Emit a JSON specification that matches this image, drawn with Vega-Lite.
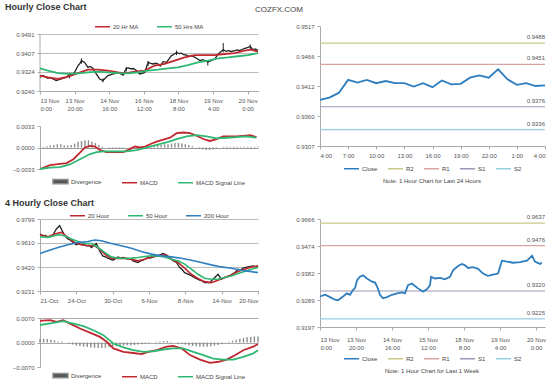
{
"$schema": "https://vega.github.io/schema/vega-lite/v6.json",
"background": "white",
"padding": {"left": 5, "top": 3, "right": 4, "bottom": 2},
"config": {
  "font": "Liberation Sans",
  "view": {"stroke": null},
  "axis": {"labelFontSize": 6, "labelColor": "#555", "domainColor": "#aaa", "tickColor": "#aaa", "tickSize": 3, "labelPadding": 3, "grid": false, "labelOverlap": false, "tickCount": 30},
  "legend": {"labelFontSize": 6, "labelColor": "#444", "symbolType": "stroke", "symbolSize": 225, "symbolStrokeWidth": 1.5, "direction": "horizontal", "padding": 0, "columnPadding": 15, "rowPadding": 0, "labelOffset": 2, "layout": {"bottom": {"anchor": "middle"}, "top": {"anchor": "middle"}}},
  "title": {"font": "Liberation Sans"}
},
"datasets": {
  "p1c": [
    {"i":0,"v":0.9300},{"i":1.7,"v":0.9308},{"i":3,"v":0.9302},{"i":4.6,"v":0.9296},{"i":6,"v":0.9300},{"i":7.5,"v":0.9293},{"i":9.4,"v":0.9286},{"i":11,"v":0.9290},{"i":12.3,"v":0.9293},{"i":14,"v":0.9298},{"i":15.2,"v":0.9300},{"i":17.1,"v":0.9315},{"i":18.5,"v":0.9310},{"i":20,"v":0.9322},{"i":22,"v":0.9352},{"i":23,"v":0.9360},{"i":23.9,"v":0.9374},{"i":25.8,"v":0.9366},{"i":27.7,"v":0.9344},{"i":29,"v":0.9348},{"i":30.6,"v":0.9340},{"i":32.5,"v":0.9315},{"i":34.5,"v":0.9293},{"i":36.4,"v":0.9286},{"i":38,"v":0.9298},{"i":39.3,"v":0.9308},{"i":41,"v":0.9312},{"i":42.2,"v":0.9315},{"i":44,"v":0.9318},{"i":45.1,"v":0.9322},{"i":46.5,"v":0.9316},{"i":48,"v":0.9310},{"i":49.9,"v":0.9340},{"i":51,"v":0.9342},{"i":52.8,"v":0.9337},{"i":54,"v":0.9339},{"i":55.7,"v":0.9330},{"i":57.6,"v":0.9315},{"i":59,"v":0.9318},{"i":60.5,"v":0.9322},{"i":62.5,"v":0.9366},{"i":64,"v":0.9362},{"i":65.3,"v":0.9359},{"i":67,"v":0.9362},{"i":68.3,"v":0.9359},{"i":69.5,"v":0.9350},{"i":71.1,"v":0.9369},{"i":73.1,"v":0.9366},{"i":74.5,"v":0.9380},{"i":76,"v":0.9396},{"i":77.5,"v":0.9402},{"i":78.9,"v":0.9410},{"i":80.5,"v":0.9405},{"i":81.8,"v":0.9407},{"i":83,"v":0.9400},{"i":84.7,"v":0.9398},{"i":86,"v":0.9392},{"i":87.6,"v":0.9396},{"i":89,"v":0.9390},{"i":90.5,"v":0.9384},{"i":92.4,"v":0.9374},{"i":94,"v":0.9378},{"i":95.3,"v":0.9374},{"i":97,"v":0.9368},{"i":98.2,"v":0.9371},{"i":99.5,"v":0.9376},{"i":101.1,"v":0.9381},{"i":102.5,"v":0.9398},{"i":104,"v":0.9410},{"i":105.9,"v":0.9422},{"i":107.5,"v":0.9415},{"i":108.8,"v":0.9418},{"i":110.5,"v":0.9414},{"i":112.7,"v":0.9418},{"i":114,"v":0.9421},{"i":115.4,"v":0.9418},{"i":117.3,"v":0.9425},{"i":118.5,"v":0.9428},{"i":120.2,"v":0.9432},{"i":121.5,"v":0.9436},{"i":123.1,"v":0.9422},{"i":124.5,"v":0.9425},{"i":126,"v":0.9418}
  ],
  "p1hl": [
    {"i":24,"lo":0.9360,"hi":0.9384},{"i":36.4,"lo":0.9278,"hi":0.9296},{"i":62.5,"lo":0.9350,"hi":0.9372},{"i":78.9,"lo":0.9398,"hi":0.9418},{"i":97,"lo":0.9352,"hi":0.9374},{"i":105.9,"lo":0.9410,"hi":0.9451},{"i":121.5,"lo":0.9424,"hi":0.9445},{"i":17.1,"lo":0.9296,"hi":0.9320},{"i":49.9,"lo":0.9326,"hi":0.9346}
  ],
  "p1ma": [
    {"s":"20 Hr MA","i":0,"v":0.9308},{"s":"20 Hr MA","i":4.6,"v":0.9300},{"s":"20 Hr MA","i":10.4,"v":0.9293},{"s":"20 Hr MA","i":16.2,"v":0.9303},{"s":"20 Hr MA","i":22,"v":0.9319},{"s":"20 Hr MA","i":27.7,"v":0.9334},{"s":"20 Hr MA","i":33.5,"v":0.9334},{"s":"20 Hr MA","i":39.3,"v":0.9330},{"s":"20 Hr MA","i":45.1,"v":0.9322},{"s":"20 Hr MA","i":48.9,"v":0.9318},{"s":"20 Hr MA","i":54.7,"v":0.9325},{"s":"20 Hr MA","i":60.5,"v":0.9330},{"s":"20 Hr MA","i":66.3,"v":0.9352},{"s":"20 Hr MA","i":72,"v":0.9359},{"s":"20 Hr MA","i":77.8,"v":0.9374},{"s":"20 Hr MA","i":83.6,"v":0.9388},{"s":"20 Hr MA","i":89.4,"v":0.9398},{"s":"20 Hr MA","i":95.2,"v":0.9398},{"s":"20 Hr MA","i":101,"v":0.9398},{"s":"20 Hr MA","i":106.7,"v":0.9403},{"s":"20 Hr MA","i":112.5,"v":0.9407},{"s":"20 Hr MA","i":118.3,"v":0.9418},{"s":"20 Hr MA","i":122.1,"v":0.9422},{"s":"20 Hr MA","i":126,"v":0.9413},
    {"s":"50 Hrs MA","i":0,"v":0.9340},{"s":"50 Hrs MA","i":4.6,"v":0.9330},{"s":"50 Hrs MA","i":10.4,"v":0.9319},{"s":"50 Hrs MA","i":16.2,"v":0.9315},{"s":"50 Hrs MA","i":22,"v":0.9318},{"s":"50 Hrs MA","i":27.7,"v":0.9322},{"s":"50 Hrs MA","i":33.5,"v":0.9325},{"s":"50 Hrs MA","i":39.3,"v":0.9322},{"s":"50 Hrs MA","i":45.1,"v":0.9319},{"s":"50 Hrs MA","i":50.8,"v":0.9318},{"s":"50 Hrs MA","i":56.6,"v":0.9322},{"s":"50 Hrs MA","i":62.4,"v":0.9330},{"s":"50 Hrs MA","i":68.2,"v":0.9334},{"s":"50 Hrs MA","i":74,"v":0.9340},{"s":"50 Hrs MA","i":79.7,"v":0.9344},{"s":"50 Hrs MA","i":85.5,"v":0.9354},{"s":"50 Hrs MA","i":91.3,"v":0.9366},{"s":"50 Hrs MA","i":97.1,"v":0.9374},{"s":"50 Hrs MA","i":102.9,"v":0.9384},{"s":"50 Hrs MA","i":108.7,"v":0.9388},{"s":"50 Hrs MA","i":114.4,"v":0.9393},{"s":"50 Hrs MA","i":120.2,"v":0.9398},{"s":"50 Hrs MA","i":126,"v":0.9407}
  ],
  "m1": [
    {"s":"MACD","i":0,"v":-0.0033},{"s":"MACD","i":5.8,"v":-0.0027},{"s":"MACD","i":11.6,"v":-0.0025},{"s":"MACD","i":15.4,"v":-0.0024},{"s":"MACD","i":19.3,"v":-0.0018},{"s":"MACD","i":23.1,"v":-0.0008},{"s":"MACD","i":26,"v":0.0},{"s":"MACD","i":28.9,"v":0.00025},{"s":"MACD","i":31.8,"v":0.00015},{"s":"MACD","i":34.7,"v":-0.0004},{"s":"MACD","i":38.5,"v":-0.0007},{"s":"MACD","i":42.4,"v":-0.0007},{"s":"MACD","i":48.2,"v":-0.0007},{"s":"MACD","i":52,"v":-0.00025},{"s":"MACD","i":54.9,"v":0.00015},{"s":"MACD","i":57.8,"v":0.0},{"s":"MACD","i":60.7,"v":0.00015},{"s":"MACD","i":63.6,"v":0.0005},{"s":"MACD","i":67.4,"v":0.0009},{"s":"MACD","i":71.3,"v":0.0012},{"s":"MACD","i":75.1,"v":0.0015},{"s":"MACD","i":79,"v":0.0022},{"s":"MACD","i":82.8,"v":0.0023},{"s":"MACD","i":86.7,"v":0.0022},{"s":"MACD","i":90.5,"v":0.0018},{"s":"MACD","i":94.4,"v":0.0013},{"s":"MACD","i":98.2,"v":0.0010},{"s":"MACD","i":102,"v":0.0013},{"s":"MACD","i":105.9,"v":0.0017},{"s":"MACD","i":109.7,"v":0.0017},{"s":"MACD","i":113.6,"v":0.0017},{"s":"MACD","i":117.4,"v":0.0018},{"s":"MACD","i":121.3,"v":0.0019},{"s":"MACD","i":125.1,"v":0.0016},
    {"s":"MACD Signal Line","i":0,"v":-0.0033},{"s":"MACD Signal Line","i":5.8,"v":-0.0031},{"s":"MACD Signal Line","i":11.6,"v":-0.0030},{"s":"MACD Signal Line","i":17.3,"v":-0.0026},{"s":"MACD Signal Line","i":23.1,"v":-0.0018},{"s":"MACD Signal Line","i":28.9,"v":-0.0010},{"s":"MACD Signal Line","i":32.8,"v":-0.0007},{"s":"MACD Signal Line","i":36.6,"v":-0.0006},{"s":"MACD Signal Line","i":42.4,"v":-0.0006},{"s":"MACD Signal Line","i":50.1,"v":-0.0006},{"s":"MACD Signal Line","i":55.9,"v":-0.0004},{"s":"MACD Signal Line","i":61.7,"v":0.0},{"s":"MACD Signal Line","i":67.4,"v":0.0004},{"s":"MACD Signal Line","i":73.2,"v":0.0008},{"s":"MACD Signal Line","i":79,"v":0.0013},{"s":"MACD Signal Line","i":84.7,"v":0.0017},{"s":"MACD Signal Line","i":90.5,"v":0.0019},{"s":"MACD Signal Line","i":96.3,"v":0.0017},{"s":"MACD Signal Line","i":102,"v":0.0014},{"s":"MACD Signal Line","i":107.8,"v":0.0015},{"s":"MACD Signal Line","i":113.6,"v":0.0016},{"s":"MACD Signal Line","i":119.4,"v":0.0017},{"s":"MACD Signal Line","i":125.1,"v":0.0015}
  ],
  "d1": [
    {"i":0,"d":0.0},{"i":2,"d":0.0001},{"i":4,"d":0.0002},{"i":6,"d":0.0003},{"i":8,"d":0.0004},{"i":10,"d":0.0005},{"i":12,"d":0.0005},{"i":14,"d":0.0003},{"i":16,"d":0.0003},{"i":18,"d":0.0004},{"i":20,"d":0.0006},{"i":22,"d":0.0009},{"i":24,"d":0.0010},{"i":26,"d":0.0011},{"i":28,"d":0.0011},{"i":30,"d":0.0009},{"i":32,"d":0.0007},{"i":34,"d":0.0004},{"i":36,"d":0.0001},{"i":38,"d":0.0},{"i":40,"d":-0.0001},{"i":42,"d":-0.0001},{"i":44,"d":-0.0001},{"i":46,"d":-0.0001},{"i":48,"d":-0.0001},{"i":50,"d":0.0},{"i":52,"d":0.0001},{"i":54,"d":0.0002},{"i":56,"d":0.0001},{"i":58,"d":0.0},{"i":60,"d":0.0001},{"i":62,"d":0.0002},{"i":64,"d":0.0003},{"i":66,"d":0.0004},{"i":68,"d":0.0004},{"i":70,"d":0.0004},{"i":72,"d":0.0005},{"i":74,"d":0.0005},{"i":76,"d":0.0006},{"i":78,"d":0.0007},{"i":80,"d":0.0007},{"i":82,"d":0.0006},{"i":84,"d":0.0005},{"i":86,"d":0.0004},{"i":88,"d":0.0002},{"i":90,"d":0.0},{"i":92,"d":-0.0002},{"i":94,"d":-0.0003},{"i":96,"d":-0.0004},{"i":98,"d":-0.0004},{"i":100,"d":-0.0003},{"i":102,"d":-0.0002},{"i":104,"d":0.0},{"i":106,"d":0.0001},{"i":108,"d":0.0001},{"i":110,"d":0.0001},{"i":112,"d":0.0001},{"i":114,"d":0.0001},{"i":116,"d":0.0001},{"i":118,"d":0.0001},{"i":120,"d":0.0001},{"i":122,"d":0.0001},{"i":124,"d":0.0001},{"i":126,"d":0.0001}
  ],
  "p2c": [
    {"i":0,"v":0.9680},{"i":1.7,"v":0.9667},{"i":3,"v":0.9670},{"i":4.4,"v":0.9654},{"i":6,"v":0.9662},{"i":7.2,"v":0.9675},{"i":9,"v":0.9720},{"i":10.8,"v":0.9746},{"i":12.7,"v":0.9693},{"i":14,"v":0.9660},{"i":15.4,"v":0.9641},{"i":17,"v":0.9630},{"i":18.2,"v":0.9614},{"i":20,"v":0.9596},{"i":21.5,"v":0.9605},{"i":22.8,"v":0.9596},{"i":24,"v":0.9600},{"i":25.5,"v":0.9588},{"i":27,"v":0.9592},{"i":28.3,"v":0.9574},{"i":31,"v":0.9606},{"i":32.8,"v":0.9548},{"i":34.5,"v":0.9508},{"i":36,"v":0.9500},{"i":37.4,"v":0.9490},{"i":39,"v":0.9480},{"i":40.2,"v":0.9474},{"i":42.9,"v":0.9500},{"i":44.3,"v":0.9492},{"i":45.7,"v":0.9495},{"i":48.4,"v":0.9482},{"i":49.8,"v":0.9486},{"i":51.2,"v":0.9469},{"i":53.9,"v":0.9456},{"i":55.2,"v":0.9466},{"i":56.7,"v":0.9474},{"i":59.4,"v":0.9495},{"i":60.8,"v":0.9490},{"i":62.2,"v":0.9500},{"i":64.9,"v":0.9508},{"i":67.7,"v":0.9527},{"i":69.5,"v":0.9516},{"i":71.4,"v":0.9495},{"i":73.2,"v":0.9469},{"i":75.1,"v":0.9456},{"i":76.9,"v":0.9416},{"i":78.2,"v":0.9400},{"i":79.6,"v":0.9376},{"i":82.4,"v":0.9358},{"i":83.8,"v":0.9348},{"i":85.1,"v":0.9337},{"i":87.9,"v":0.9316},{"i":89.2,"v":0.9310},{"i":90.6,"v":0.9297},{"i":93.4,"v":0.9297},{"i":96.2,"v":0.9337},{"i":98,"v":0.9363},{"i":99.8,"v":0.9324},{"i":101.6,"v":0.9337},{"i":104.4,"v":0.9350},{"i":107.2,"v":0.9376},{"i":109,"v":0.9403},{"i":110.3,"v":0.9395},{"i":111.7,"v":0.9411},{"i":114.5,"v":0.9421},{"i":117.2,"v":0.9429},{"i":119,"v":0.9421},{"i":120,"v":0.9429}
  ],
  "p2ma": [
    {"s":"20 Hour","i":0,"v":0.9675},{"s":"20 Hour","i":4.4,"v":0.9659},{"s":"20 Hour","i":8.1,"v":0.9680},{"s":"20 Hour","i":11.7,"v":0.9693},{"s":"20 Hour","i":15.4,"v":0.9654},{"s":"20 Hour","i":19.1,"v":0.9614},{"s":"20 Hour","i":22.8,"v":0.9596},{"s":"20 Hour","i":26.4,"v":0.9588},{"s":"20 Hour","i":30.1,"v":0.9588},{"s":"20 Hour","i":32.8,"v":0.9561},{"s":"20 Hour","i":35.6,"v":0.9522},{"s":"20 Hour","i":39.3,"v":0.9490},{"s":"20 Hour","i":42.9,"v":0.9487},{"s":"20 Hour","i":46.6,"v":0.9490},{"s":"20 Hour","i":50.3,"v":0.9482},{"s":"20 Hour","i":53.9,"v":0.9469},{"s":"20 Hour","i":57.6,"v":0.9482},{"s":"20 Hour","i":61.3,"v":0.9500},{"s":"20 Hour","i":64.9,"v":0.9508},{"s":"20 Hour","i":68.6,"v":0.9516},{"s":"20 Hour","i":72.3,"v":0.9482},{"s":"20 Hour","i":75.9,"v":0.9456},{"s":"20 Hour","i":79.6,"v":0.9411},{"s":"20 Hour","i":83.3,"v":0.9363},{"s":"20 Hour","i":87,"v":0.9329},{"s":"20 Hour","i":90.6,"v":0.9305},{"s":"20 Hour","i":94.3,"v":0.9297},{"s":"20 Hour","i":98,"v":0.9316},{"s":"20 Hour","i":101.6,"v":0.9337},{"s":"20 Hour","i":105.3,"v":0.9358},{"s":"20 Hour","i":109,"v":0.9384},{"s":"20 Hour","i":112.6,"v":0.9403},{"s":"20 Hour","i":116.3,"v":0.9421},{"s":"20 Hour","i":120,"v":0.9429},
    {"s":"50 Hour","i":0,"v":0.9659},{"s":"50 Hour","i":4.4,"v":0.9654},{"s":"50 Hour","i":9.9,"v":0.9675},{"s":"50 Hour","i":13.6,"v":0.9667},{"s":"50 Hour","i":17.3,"v":0.9641},{"s":"50 Hour","i":21,"v":0.9622},{"s":"50 Hour","i":24.7,"v":0.9606},{"s":"50 Hour","i":28.3,"v":0.9606},{"s":"50 Hour","i":32,"v":0.9574},{"s":"50 Hour","i":35.6,"v":0.9535},{"s":"50 Hour","i":39.3,"v":0.9500},{"s":"50 Hour","i":42.9,"v":0.9490},{"s":"50 Hour","i":46.6,"v":0.9487},{"s":"50 Hour","i":50.3,"v":0.9490},{"s":"50 Hour","i":53.9,"v":0.9495},{"s":"50 Hour","i":57.6,"v":0.9503},{"s":"50 Hour","i":61.3,"v":0.9508},{"s":"50 Hour","i":64.9,"v":0.9508},{"s":"50 Hour","i":68.6,"v":0.9500},{"s":"50 Hour","i":72.3,"v":0.9482},{"s":"50 Hour","i":75.9,"v":0.9469},{"s":"50 Hour","i":79.6,"v":0.9443},{"s":"50 Hour","i":83.3,"v":0.9403},{"s":"50 Hour","i":87,"v":0.9363},{"s":"50 Hour","i":90.6,"v":0.9332},{"s":"50 Hour","i":94.3,"v":0.9324},{"s":"50 Hour","i":98,"v":0.9324},{"s":"50 Hour","i":101.6,"v":0.9337},{"s":"50 Hour","i":105.3,"v":0.9350},{"s":"50 Hour","i":109,"v":0.9369},{"s":"50 Hour","i":112.6,"v":0.9384},{"s":"50 Hour","i":116.3,"v":0.9403},{"s":"50 Hour","i":120,"v":0.9416},
    {"s":"200 Hour","i":0,"v":0.9527},{"s":"200 Hour","i":4.4,"v":0.9548},{"s":"200 Hour","i":9.9,"v":0.9574},{"s":"200 Hour","i":15.4,"v":0.9596},{"s":"200 Hour","i":21,"v":0.9614},{"s":"200 Hour","i":26.4,"v":0.9622},{"s":"200 Hour","i":30.1,"v":0.9633},{"s":"200 Hour","i":33.8,"v":0.9627},{"s":"200 Hour","i":39.3,"v":0.9606},{"s":"200 Hour","i":44.8,"v":0.9588},{"s":"200 Hour","i":50.3,"v":0.9569},{"s":"200 Hour","i":55.7,"v":0.9543},{"s":"200 Hour","i":61.3,"v":0.9522},{"s":"200 Hour","i":66.8,"v":0.9508},{"s":"200 Hour","i":72.3,"v":0.9500},{"s":"200 Hour","i":77.8,"v":0.9490},{"s":"200 Hour","i":83.3,"v":0.9474},{"s":"200 Hour","i":88.8,"v":0.9456},{"s":"200 Hour","i":94.3,"v":0.9437},{"s":"200 Hour","i":99.8,"v":0.9421},{"s":"200 Hour","i":105.3,"v":0.9411},{"s":"200 Hour","i":110.8,"v":0.9395},{"s":"200 Hour","i":116.3,"v":0.9384},{"s":"200 Hour","i":120,"v":0.9376}
  ],
  "m2": [
    {"s":"MACD","i":0,"v":0.0062},{"s":"MACD","i":5.5,"v":0.0064},{"s":"MACD","i":9.2,"v":0.0059},{"s":"MACD","i":12.8,"v":0.0064},{"s":"MACD","i":16.5,"v":0.0054},{"s":"MACD","i":22,"v":0.0040},{"s":"MACD","i":27.5,"v":0.0028},{"s":"MACD","i":33,"v":0.0016},{"s":"MACD","i":36.7,"v":0.0002},{"s":"MACD","i":40.4,"v":-0.0017},{"s":"MACD","i":45.9,"v":-0.0027},{"s":"MACD","i":51.4,"v":-0.0030},{"s":"MACD","i":56,"v":-0.0033},{"s":"MACD","i":59.6,"v":-0.0027},{"s":"MACD","i":64.2,"v":-0.0022},{"s":"MACD","i":69.7,"v":-0.0012},{"s":"MACD","i":73.4,"v":-0.0010},{"s":"MACD","i":78,"v":-0.0017},{"s":"MACD","i":82.6,"v":-0.0036},{"s":"MACD","i":88.1,"v":-0.0049},{"s":"MACD","i":93.6,"v":-0.0058},{"s":"MACD","i":98.2,"v":-0.0055},{"s":"MACD","i":102.8,"v":-0.0049},{"s":"MACD","i":106.4,"v":-0.0039},{"s":"MACD","i":111.9,"v":-0.0022},{"s":"MACD","i":117.4,"v":-0.0012},{"s":"MACD","i":120,"v":-0.0004},
    {"s":"MACD Signal Line","i":0,"v":0.0050},{"s":"MACD Signal Line","i":7.3,"v":0.0056},{"s":"MACD Signal Line","i":12.8,"v":0.0061},{"s":"MACD Signal Line","i":18.3,"v":0.0054},{"s":"MACD Signal Line","i":23.9,"v":0.0047},{"s":"MACD Signal Line","i":29.4,"v":0.0035},{"s":"MACD Signal Line","i":34.9,"v":0.0021},{"s":"MACD Signal Line","i":40.4,"v":-0.0003},{"s":"MACD Signal Line","i":45.9,"v":-0.0014},{"s":"MACD Signal Line","i":51.4,"v":-0.0022},{"s":"MACD Signal Line","i":56.9,"v":-0.0027},{"s":"MACD Signal Line","i":62.4,"v":-0.0025},{"s":"MACD Signal Line","i":67.9,"v":-0.0020},{"s":"MACD Signal Line","i":73.4,"v":-0.0017},{"s":"MACD Signal Line","i":78.9,"v":-0.0017},{"s":"MACD Signal Line","i":84.4,"v":-0.0027},{"s":"MACD Signal Line","i":89.9,"v":-0.0036},{"s":"MACD Signal Line","i":95.4,"v":-0.0046},{"s":"MACD Signal Line","i":100.9,"v":-0.0049},{"s":"MACD Signal Line","i":106.4,"v":-0.0049},{"s":"MACD Signal Line","i":111.9,"v":-0.0041},{"s":"MACD Signal Line","i":117.4,"v":-0.0031},{"s":"MACD Signal Line","i":120,"v":-0.0022}
  ],
  "d2": [
    {"i":0,"d":0.0010},{"i":2,"d":0.0011},{"i":4,"d":0.0010},{"i":6,"d":0.0008},{"i":8,"d":0.0006},{"i":10,"d":0.0003},{"i":12,"d":0.0002},{"i":14,"d":0.0},{"i":16,"d":-0.0003},{"i":18,"d":-0.0006},{"i":20,"d":-0.0009},{"i":22,"d":-0.0011},{"i":24,"d":-0.0012},{"i":26,"d":-0.0013},{"i":28,"d":-0.0014},{"i":30,"d":-0.0015},{"i":32,"d":-0.0016},{"i":34,"d":-0.0016},{"i":36,"d":-0.0015},{"i":38,"d":-0.0013},{"i":40,"d":-0.0012},{"i":42,"d":-0.0011},{"i":44,"d":-0.0010},{"i":46,"d":-0.0009},{"i":48,"d":-0.0008},{"i":50,"d":-0.0008},{"i":52,"d":-0.0007},{"i":54,"d":-0.0006},{"i":56,"d":-0.0005},{"i":58,"d":-0.0003},{"i":60,"d":-0.0002},{"i":62,"d":0.0},{"i":64,"d":0.0002},{"i":66,"d":0.0003},{"i":68,"d":0.0004},{"i":70,"d":0.0004},{"i":72,"d":0.0002},{"i":74,"d":0.0},{"i":76,"d":-0.0002},{"i":78,"d":-0.0004},{"i":80,"d":-0.0006},{"i":82,"d":-0.0008},{"i":84,"d":-0.0010},{"i":86,"d":-0.0011},{"i":88,"d":-0.0012},{"i":90,"d":-0.0012},{"i":92,"d":-0.0012},{"i":94,"d":-0.0011},{"i":96,"d":-0.0009},{"i":98,"d":-0.0007},{"i":100,"d":-0.0004},{"i":102,"d":-0.0001},{"i":104,"d":0.0002},{"i":106,"d":0.0005},{"i":108,"d":0.0008},{"i":110,"d":0.0011},{"i":112,"d":0.0013},{"i":114,"d":0.0015},{"i":116,"d":0.0016},{"i":118,"d":0.0017},{"i":120,"d":0.0017}
  ],
  "r1": [
    {"h":0,"v":0.9388},{"h":1,"v":0.9392},{"h":2,"v":0.9400},{"h":3,"v":0.9423},{"h":4,"v":0.9418},{"h":5,"v":0.9423},{"h":6,"v":0.9417},{"h":7,"v":0.9421},{"h":8,"v":0.9417},{"h":9,"v":0.9417},{"h":10,"v":0.9411},{"h":11,"v":0.9417},{"h":12,"v":0.9410},{"h":13,"v":0.9422},{"h":14,"v":0.9415},{"h":15,"v":0.9416},{"h":16,"v":0.9427},{"h":17,"v":0.9431},{"h":18,"v":0.9427},{"h":19,"v":0.9442},{"h":20,"v":0.9424},{"h":21,"v":0.9414},{"h":22,"v":0.9417},{"h":23,"v":0.9412},{"h":24,"v":0.9413}
  ],
  "lv1": [
    {"s":"R2","v":0.9488},{"s":"R1","v":0.9451},{"s":"S1","v":0.9376},{"s":"S2","v":0.9336}
  ],
  "r2": [
    {"i":0,"v":0.9301},{"i":2.8,"v":0.9307},{"i":5.6,"v":0.9299},{"i":8.3,"v":0.9290},{"i":10,"v":0.9288},{"i":12.8,"v":0.9301},{"i":15,"v":0.9312},{"i":16.7,"v":0.9307},{"i":18.3,"v":0.9323},{"i":19.5,"v":0.9331},{"i":20.6,"v":0.9357},{"i":22.2,"v":0.9369},{"i":23.9,"v":0.9374},{"i":26.1,"v":0.9363},{"i":28.9,"v":0.9352},{"i":30.6,"v":0.9349},{"i":31.7,"v":0.9335},{"i":32.5,"v":0.9323},{"i":33.3,"v":0.9307},{"i":35,"v":0.9295},{"i":37.2,"v":0.9299},{"i":40,"v":0.9307},{"i":42.8,"v":0.9312},{"i":45.6,"v":0.9315},{"i":47.2,"v":0.9312},{"i":48.9,"v":0.9340},{"i":51.1,"v":0.9346},{"i":52.8,"v":0.9337},{"i":54.4,"v":0.9329},{"i":57.2,"v":0.9318},{"i":59.4,"v":0.9326},{"i":61.1,"v":0.9340},{"i":61.7,"v":0.9369},{"i":63.9,"v":0.9363},{"i":66.7,"v":0.9365},{"i":69.4,"v":0.9360},{"i":72.2,"v":0.9369},{"i":73.9,"v":0.9391},{"i":76.7,"v":0.9406},{"i":78.9,"v":0.9413},{"i":80.6,"v":0.9408},{"i":82.2,"v":0.9399},{"i":85,"v":0.9402},{"i":87.8,"v":0.9396},{"i":90.6,"v":0.9380},{"i":93.3,"v":0.9372},{"i":96.1,"v":0.9376},{"i":98.9,"v":0.9380},{"i":101.1,"v":0.9424},{"i":103.9,"v":0.9421},{"i":107.2,"v":0.9417},{"i":111.1,"v":0.9419},{"i":115,"v":0.9424},{"i":117.8,"v":0.9441},{"i":119.4,"v":0.9421},{"i":122.2,"v":0.9413},{"i":123.3,"v":0.9417}
  ],
  "lv2": [
    {"s":"R2","v":0.9637},{"s":"R1","v":0.9476},{"s":"S1","v":0.9320},{"s":"S2","v":0.9225}
  ]
},
"resolve": {"scale": {"color": "independent"}, "legend": {"color": "independent"}},
"spacing": -7,
"hconcat": [
  {
    "resolve": {"scale": {"color": "independent"}, "legend": {"color": "independent"}},
    "spacing": 12,
    "vconcat": [
      {
        "resolve": {"scale": {"color": "independent"}, "legend": {"color": "independent"}},
        "spacing": 12,
        "vconcat": [
          {
            "width": 218, "height": 65,
            "title": {"text": "Hourly Close Chart", "anchor": "start", "frame": "group", "dx": -35, "fontSize": 9, "fontWeight": "bold", "color": "#333", "offset": 6},
            "layer": [
              {"data": {"name": "p1c"}, "mark": {"type": "line", "color": "#222", "strokeWidth": 1.3},
               "encoding": {
                 "x": {"field": "i", "type": "quantitative", "scale": {"domain": [0, 126], "nice": false},
                       "axis": {"title": null, "labelOverlap": false, "tickCount": 30, "values": [0, 20, 40, 60, 80, 100, 120], "labelLineHeight": 8, "labelExpr": "split(['13 Nov|0:00','13 Nov|20:00','14 Nov|16:00','16 Nov|12:00','18 Nov|8:00','19 Nov|4:00','20 Nov|0:00'][round(datum.value/20)], '|')"}},
                 "y": {"field": "v", "type": "quantitative", "scale": {"domain": [0.9240, 0.9491], "range": [65, 8], "nice": false, "zero": false},
                       "axis": {"title": null, "labelOverlap": false, "tickCount": 30, "domain": false, "values": [0.9240, 0.9324, 0.9407, 0.9491], "format": ".4f", "grid": true, "gridColor": "#bbb"}}
               }},
              {"data": {"values": [{}]}, "mark": {"type": "rule", "color": "#aaa"},
               "encoding": {"x": {"datum": 0, "type": "quantitative"}, "y": {"datum": 0.9240, "type": "quantitative"}, "y2": {"datum": 0.9491}}},
              {"data": {"name": "p1hl"}, "mark": {"type": "rule", "color": "#222", "strokeWidth": 1},
               "encoding": {"x": {"field": "i", "type": "quantitative"}, "y": {"field": "lo", "type": "quantitative"}, "y2": {"field": "hi"}}},
              {"data": {"name": "p1ma"}, "mark": {"type": "line", "strokeWidth": 1.8},
               "encoding": {
                 "x": {"field": "i", "type": "quantitative"},
                 "y": {"field": "v", "type": "quantitative"},
                 "color": {"field": "s", "type": "nominal", "title": null, "scale": {"domain": ["20 Hr MA", "50 Hrs MA"], "range": ["#c0282f", "#2eb872"]},
                           "legend": {"orient": "top", "title": null, "offset": -4}}
               }}
            ]
          },
          {
            "width": 218, "height": 43,
            "layer": [
              {"data": {"name": "d1"}, "mark": {"type": "rule", "strokeWidth": 1.4},
               "encoding": {
                 "x": {"field": "i", "type": "quantitative", "scale": {"domain": [0, 126], "nice": false}, "axis": null},
                 "y": {"field": "d", "type": "quantitative", "scale": {"domain": [-0.0033, 0.0033], "nice": false},
                       "axis": {"title": null, "labelOverlap": false, "tickCount": 30, "values": [-0.0033, 0, 0.0033], "format": ".4f", "grid": true, "gridColor": {"condition": {"test": "datum.value === 0", "value": "#999"}, "value": "transparent"}}},
                 "y2": {"datum": 0},
                 "color": {"datum": "Divergence", "title": null, "scale": {"domain": ["Divergence", "MACD", "MACD Signal Line"], "range": ["#8c8c8c", "#c0282f", "#2eb872"]},
                           "legend": {"orient": "bottom", "title": null, "offset": 0, "columnPadding": 17,
                                      "encode": {"symbols": {"update": {"shape": {"signal": "datum.value === 'Divergence' ? 'M-1,-0.28H1V0.28H-1Z' : 'stroke'"}, "fill": {"signal": "datum.value === 'Divergence' ? '#555' : 'transparent'"}, "stroke": {"signal": "datum.value === 'Divergence' ? '#555' : (datum.value === 'MACD' ? '#c0282f' : '#2eb872')"}}}}}}
               }},
              {"data": {"name": "m1"}, "mark": {"type": "line", "strokeWidth": 1.8},
               "encoding": {
                 "x": {"field": "i", "type": "quantitative"},
                 "y": {"field": "v", "type": "quantitative"},
                 "color": {"field": "s", "type": "nominal", "title": null}
               }}
            ]
          }
        ]
      },
      {
        "resolve": {"scale": {"color": "independent"}, "legend": {"color": "independent"}},
        "spacing": 12,
        "vconcat": [
          {
            "width": 218, "height": 72,
            "title": {"text": "4 Hourly Close Chart", "anchor": "start", "frame": "group", "dx": -35, "fontSize": 9, "fontWeight": "bold", "color": "#333", "offset": -1},
            "layer": [
              {"data": {"name": "p2c"}, "mark": {"type": "line", "color": "#222", "strokeWidth": 1.3},
               "encoding": {
                 "x": {"field": "i", "type": "quantitative", "scale": {"domain": [0, 120], "nice": false},
                       "axis": {"title": null, "labelOverlap": false, "tickCount": 30, "values": [0, 20, 40, 60, 80, 100, 120], "labelExpr": "['21-Oct','24-Oct','30-Oct','6-Nov','8-Nov','14-Nov','20-Nov'][round(datum.value/20)]"}},
                 "y": {"field": "v", "type": "quantitative", "scale": {"domain": [0.9231, 0.9799], "nice": false, "zero": false},
                       "axis": {"title": null, "labelOverlap": false, "tickCount": 30, "values": [0.9231, 0.9420, 0.9610, 0.9799], "format": ".4f", "grid": true, "gridColor": "#bbb"}}
               }},
              {"data": {"name": "p2ma"}, "mark": {"type": "line", "strokeWidth": 1.6},
               "encoding": {
                 "x": {"field": "i", "type": "quantitative"},
                 "y": {"field": "v", "type": "quantitative"},
                 "color": {"field": "s", "type": "nominal", "title": null, "scale": {"domain": ["20 Hour", "50 Hour", "200 Hour"], "range": ["#c0282f", "#2eb872", "#2f7fc1"]},
                           "legend": {"orient": "top", "title": null, "offset": 0}}
               }}
            ]
          },
          {
            "width": 218, "height": 49,
            "layer": [
              {"data": {"name": "d2"}, "mark": {"type": "rule", "strokeWidth": 1.4},
               "encoding": {
                 "x": {"field": "i", "type": "quantitative", "scale": {"domain": [0, 120], "nice": false}, "axis": null},
                 "y": {"field": "d", "type": "quantitative", "scale": {"domain": [-0.0070, 0.0070], "nice": false},
                       "axis": {"title": null, "labelOverlap": false, "tickCount": 30, "values": [-0.0070, 0, 0.0070], "format": ".4f", "grid": true, "gridColor": {"condition": {"test": "datum.value < -0.006", "value": "transparent"}, "value": "#aaa"}}},
                 "y2": {"datum": 0},
                 "color": {"datum": "Divergence", "title": null, "scale": {"domain": ["Divergence", "MACD", "MACD Signal Line"], "range": ["#8c8c8c", "#c0282f", "#2eb872"]},
                           "legend": {"orient": "bottom", "title": null, "offset": 0, "columnPadding": 17,
                                      "encode": {"symbols": {"update": {"shape": {"signal": "datum.value === 'Divergence' ? 'M-1,-0.28H1V0.28H-1Z' : 'stroke'"}, "fill": {"signal": "datum.value === 'Divergence' ? '#555' : 'transparent'"}, "stroke": {"signal": "datum.value === 'Divergence' ? '#555' : (datum.value === 'MACD' ? '#c0282f' : '#2eb872')"}}}}}}
               }},
              {"data": {"name": "m2"}, "mark": {"type": "line", "strokeWidth": 1.8},
               "encoding": {
                 "x": {"field": "i", "type": "quantitative"},
                 "y": {"field": "v", "type": "quantitative"},
                 "color": {"field": "s", "type": "nominal", "title": null}
               }}
            ]
          }
        ]
      }
    ]
  },
  {
    "resolve": {"scale": {"color": "independent"}, "legend": {"color": "independent"}},
    "spacing": 30,
    "vconcat": [
      {
        "width": 225, "height": 120,
        "title": {"text": "COZFX.COM", "anchor": "start", "frame": "group", "dx": -65, "fontSize": 8, "fontWeight": "normal", "color": "#444", "offset": 9},
        "layer": [
          {"data": {"name": "lv1"}, "mark": {"type": "rule", "strokeWidth": 1.2},
           "encoding": {
             "y": {"field": "v", "type": "quantitative", "scale": {"domain": [0.9307, 0.9360, 0.9412, 0.9466, 0.9517], "range": [120, 90, 60, 30, 0], "nice": false, "zero": false},
                   "axis": {"title": null, "labelOverlap": false, "tickCount": 30, "values": [0.9307, 0.9360, 0.9412, 0.9466, 0.9517], "format": ".4f"}},
             "color": {"field": "s", "type": "nominal", "scale": {"domain": ["Close", "R2", "R1", "S1", "S2"], "range": ["#2e7dbf", "#c9c98a", "#d9a3a3", "#9d98b8", "#96cfe3"]},
                       "legend": {"orient": "bottom", "offset": 2, "title": "Note: 1 Hour Chart for Last 24 Hours", "titleOrient": "bottom", "titleAnchor": "middle", "titleFontWeight": "normal", "titleFontSize": 6, "titleColor": "#444", "titlePadding": 6, "columnPadding": 7}}
           }},
          {"data": {"name": "lv1"}, "mark": {"type": "text", "align": "right", "dy": -6, "fontSize": 6, "color": "#555"},
           "encoding": {
             "x": {"datum": 24},
             "y": {"field": "v", "type": "quantitative"},
             "text": {"field": "v", "type": "quantitative", "format": ".4f"}
           }},
          {"data": {"name": "r1"}, "mark": {"type": "line", "strokeWidth": 1.8},
           "encoding": {
             "x": {"field": "h", "type": "quantitative", "scale": {"domain": [0, 24], "nice": false},
                   "axis": {"title": null, "labelOverlap": false, "tickCount": 30, "values": [0, 3, 6, 9, 12, 15, 18, 21, 24], "labelExpr": "((datum.value + 4) % 24) + ':00'"}},
             "y": {"field": "v", "type": "quantitative"},
             "color": {"datum": "Close"}
           }}
        ]
      },
      {
        "width": 225, "height": 108,
        "layer": [
          {"data": {"name": "lv2"}, "mark": {"type": "rule", "strokeWidth": 1.2},
           "encoding": {
             "y": {"field": "v", "type": "quantitative", "scale": {"domain": [0.9197, 0.9289, 0.9382, 0.9474, 0.9666], "range": [108, 81, 54, 27, 0], "nice": false, "zero": false},
                   "axis": {"title": null, "labelOverlap": false, "tickCount": 30, "values": [0.9197, 0.9289, 0.9382, 0.9474, 0.9666], "format": ".4f"}},
             "color": {"field": "s", "type": "nominal", "scale": {"domain": ["Close", "R2", "R1", "S1", "S2"], "range": ["#2e7dbf", "#c9c98a", "#d9a3a3", "#9d98b8", "#96cfe3"]},
                       "legend": {"orient": "bottom", "offset": 0, "title": "Note: 1 Hour Chart for Last 1 Week", "titleOrient": "bottom", "titleAnchor": "middle", "titleFontWeight": "normal", "titleFontSize": 6, "titleColor": "#444", "titlePadding": 6, "columnPadding": 7}}
           }},
          {"data": {"name": "lv2"}, "mark": {"type": "text", "align": "right", "dy": -6, "fontSize": 6, "color": "#555"},
           "encoding": {
             "x": {"datum": 125},
             "y": {"field": "v", "type": "quantitative"},
             "text": {"field": "v", "type": "quantitative", "format": ".4f"}
           }},
          {"data": {"name": "r2"}, "mark": {"type": "line", "strokeWidth": 1.8},
           "encoding": {
             "x": {"field": "i", "type": "quantitative", "scale": {"domain": [0, 125], "nice": false},
                   "axis": {"title": null, "labelOverlap": false, "tickCount": 30, "labelPadding": 6, "values": [0, 20, 40, 60, 80, 100, 120], "labelLineHeight": 8, "labelExpr": "split(['13 Nov|0:00','13 Nov|20:00','14 Nov|16:00','15 Nov|12:00','18 Nov|8:00','19 Nov|4:00','20 Nov|0:00'][round(datum.value/20)], '|')"}},
             "y": {"field": "v", "type": "quantitative"},
             "color": {"datum": "Close"}
           }}
        ]
      }
    ]
  }
]
}
